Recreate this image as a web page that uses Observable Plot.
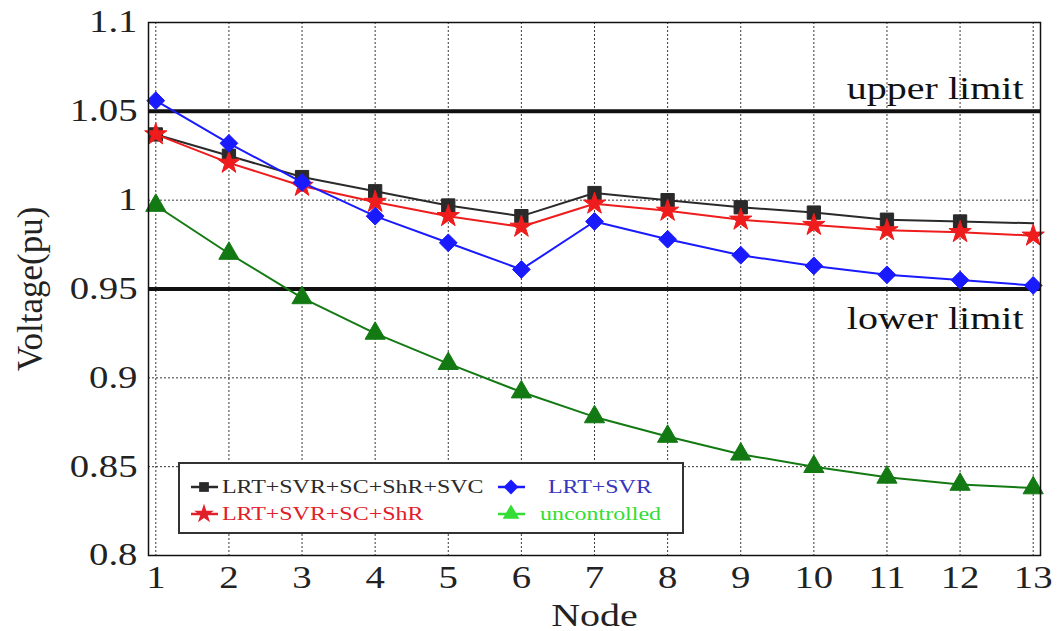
<!DOCTYPE html>
<html>
<head>
<meta charset="utf-8">
<script src="https://cdn.jsdelivr.net/npm/d3@7"></script>
<script src="https://cdn.jsdelivr.net/npm/@observablehq/plot@0.6"></script>
<style>
  html, body { margin: 0; padding: 0; background: #fff; }
  #wrap { position: relative; width: 1061px; height: 631px; font-family: "Liberation Serif", "Times New Roman", serif; }
  #legend { position: absolute; left: 178px; top: 462px; width: 502px; height: 68px; border: 2px solid #333; background: #fff; box-sizing: content-box; }
  .mk { position: absolute; }
  .lt { position: absolute; font-size: 19px; white-space: nowrap; transform: scaleX(1.26); transform-origin: left center; line-height: 20px; }
</style>
</head>
<body>
<div id="wrap"><div id="chart"></div><div id="legend"></div></div>
<script>
const nodes = [1, 2, 3, 4, 5, 6, 7, 8, 9, 10, 11, 12, 13];
const seriesNames = ["LRT+SVR+SC+ShR+SVC", "LRT+SVR+SC+ShR", "LRT+SVR", "uncontrolled"];
const vSVC = [1.037, 1.025, 1.013, 1.005, 0.997, 0.991, 1.004, 1.000, 0.996, 0.993, 0.989, 0.988, 0.987];
const vShR = [1.037, 1.021, 1.008, 0.999, 0.991, 0.985, 0.998, 0.994, 0.989, 0.986, 0.983, 0.982, 0.980];
const vSVR = [1.056, 1.032, 1.010, 0.991, 0.976, 0.961, 0.988, 0.978, 0.969, 0.963, 0.958, 0.955, 0.952];
const vUnc = [0.997, 0.970, 0.945, 0.925, 0.908, 0.892, 0.878, 0.867, 0.857, 0.850, 0.844, 0.840, 0.838];
const yTicks = [0.8, 0.85, 0.9, 0.95, 1, 1.05, 1.1];
const limits = [{v: 1.05, label: "upper limit"}, {v: 0.95, label: "lower limit"}];

const FONT = "Liberation Serif, Times New Roman, serif";
const lineColors = ["#2a2a2a", "#ee1c1c", "#1a1aff", "#137a13"];
const legendColors = ["#2a2a2a", "#e0202a", "#3535c0", "#33dd33"];
const legendLine = ["#2a2a2a", "#e0202a", "#1a1aff", "#33dd33"];
const symbols = ["square", "star", "diamond2", "triangle"];
const radii = [7.5, 7, 8, 7.5];
const values = [vSVC, vShR, vSVR, vUnc];

const data = [];
seriesNames.forEach((s, i) => nodes.forEach((n, j) => data.push({series: s, idx: i, node: n, v: values[i][j]})));

const marks = [
  Plot.gridX(nodes, {stroke: "#222", strokeOpacity: 0.9, strokeDasharray: "2,2", strokeWidth: 1}),
  Plot.gridY(yTicks.filter(d => d !== 1.05 && d !== 0.95), {stroke: "#222", strokeOpacity: 0.9, strokeDasharray: "2,2", strokeWidth: 1}),
  Plot.ruleY(limits, {y: "v", stroke: "#111", strokeWidth: 4}),
  Plot.text(limits, {y: "v", text: "label", frameAnchor: "right", textAnchor: "end", dx: -17,
    fontSize: 32, fontFamily: FONT, fill: "#111"}),
  Plot.axisX({ticks: nodes, tickSize: 0, tickPadding: 10, fontSize: 31, fontFamily: FONT, label: "Node", labelAnchor: "center", labelArrow: "none", labelOffset: 70}),
  Plot.axisY({ticks: yTicks, tickSize: 0, tickPadding: 11, fontSize: 31, fontFamily: FONT, tickFormat: d => String(d), label: "Voltage(pu)", labelAnchor: "center", labelArrow: "none", labelOffset: 131}),
];
seriesNames.forEach((s, i) => {
  const d = data.filter(r => r.idx === i);
  marks.push(Plot.line(d, {x: "node", y: "v", stroke: lineColors[i], strokeWidth: 2}));
  marks.push(Plot.dot(i === 0 ? d.filter(r => r.node < 13) : d, {x: "node", y: "v", symbol: () => symbols[i], r: radii[i], fill: lineColors[i], stroke: lineColors[i], strokeWidth: 1}));
});
marks.push(Plot.frame({stroke: "#111", strokeWidth: 1.5}));

const chart = Plot.plot({
  width: 1061, height: 631,
  marginLeft: 148, marginRight: 21, marginTop: 22, marginBottom: 76,
  x: {domain: [0.9, 13.1], axis: null},
  y: {domain: [0.8, 1.1], axis: null},
  symbol: {type: "identity"},
  style: {fontFamily: FONT, fontSize: "31px", background: "#fff", color: "#222", overflow: "visible"},
  marks
});
document.getElementById("chart").appendChild(chart);

const svg = d3.select(chart);
// place limit labels above / below their lines
svg.selectAll("text").filter(function(){ return this.textContent === "upper limit"; }).attr("y", -12).attr("dy", null);
svg.selectAll("text").filter(function(){ return this.textContent === "lower limit"; }).attr("y", 40).attr("dy", null);
svg.selectAll("text").filter(function(){ return this.textContent === "Node"; }).style("font-size", "32px");
svg.selectAll("text").filter(function(){ return this.textContent === "Voltage(pu)"; }).style("font-size", "35px");
// the reference's lettering is horizontally stretched: widen each text around its anchor
svg.selectAll("text").each(function(){
  const t = this.getAttribute("transform") || "";
  if (t.includes("rotate")) return;
  const x = +(this.getAttribute("x") || 0);
  const yy = this.getAttribute("y");
  const y = yy && !String(yy).includes("em") ? +yy : 0;
  this.setAttribute("transform", `${t} translate(${x},${y}) scale(1.25,1) translate(${-x},${-y})`);
});

// legend
const legend = document.getElementById("legend");
// [marker left, row center, text left] relative to legend content box
const L = [[10, 23, 42], [10, 50, 42], [317, 23, 368], [317, 50, 360]];
const symGen = {square: d3.symbolSquare, star: d3.symbolStar, diamond2: d3.symbolSquare, triangle: d3.symbolTriangle};
const legendSize = [95, 120, 110, 120];
seriesNames.forEach((s, i) => {
  const mk = document.createElement("div");
  mk.className = "mk";
  mk.style.left = L[i][0] + "px";
  mk.style.top = (L[i][1] - 10) + "px";
  const path = d3.symbol(symGen[symbols[i]], legendSize[i])();
  const rot = symbols[i] === "diamond2" ? "rotate(45)" : "";
  mk.innerHTML = `<svg width="30" height="20"><line x1="1" x2="28" y1="10" y2="10" stroke="${legendLine[i]}" stroke-width="2.5"/><g transform="translate(14,10) ${rot}"><path d="${path}" fill="${legendLine[i]}"/></g></svg>`;
  legend.appendChild(mk);
  const tx = document.createElement("div");
  tx.className = "lt";
  tx.style.left = L[i][2] + "px";
  tx.style.top = (L[i][1] - 10) + "px";
  tx.style.color = legendColors[i];
  tx.textContent = s;
  legend.appendChild(tx);
});
</script>
</body>
</html>
